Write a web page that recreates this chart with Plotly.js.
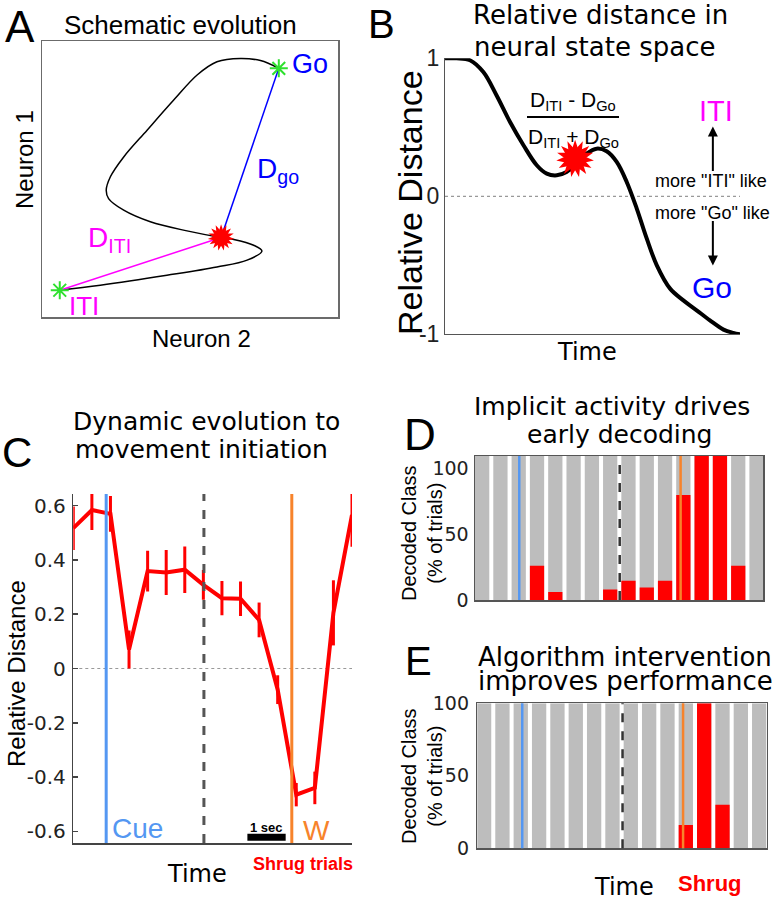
<!DOCTYPE html>
<html><head><meta charset="utf-8">
<script src="https://cdn.plot.ly/plotly-3.0.1.min.js"></script>
<style>html,body{margin:0;padding:0;background:#fff;}#chart{width:779px;height:900px;}</style>
</head><body><div id="chart"></div>
<script>
// ---------- Panel A: schematic trajectory (Neuron 2 vs Neuron 1) ----------
const schemX = [6.0, 19.7, 42.2, 59.1, 69.3, 74.3, 71.5, 64.8, 60.5, 49.0, 36.6, 27.6, 22.5, 21.7, 23.1, 27.6, 35.5, 44.5, 52.4, 59.1, 67.0, 73.8, 80.0];
const schemY = [9.7, 11.5, 15.1, 18.1, 20.6, 23.9, 26.0, 28.1, 28.8, 31.2, 34.5, 38.7, 42.9, 45.9, 50.8, 58.0, 67.7, 78.6, 87.7, 92.5, 93.7, 92.9, 90.1];
const anchorX = [6.0, 80.0];   // ITI, Go
const anchorY = [9.7, 90.1];
const currentX = [60.5];
const currentY = [28.8];

// ---------- Panel B: relative distance curve ----------
const timeB = [0, 3.95, 8.47, 13.0, 17.5, 22.0, 26.6, 31.1, 34.5, 37.9, 41.2, 44.6, 48.0, 51.4, 54.8, 58.2, 61.6, 65.0, 68.4, 71.8, 76.3, 80.8, 85.3, 89.8, 94.4, 97.7, 100];
const distB = [1.0, 1.0, 0.986, 0.90, 0.73, 0.54, 0.37, 0.225, 0.164, 0.152, 0.176, 0.237, 0.309, 0.345, 0.326, 0.249, 0.104, -0.089, -0.307, -0.5, -0.669, -0.754, -0.826, -0.899, -0.966, -0.99, -1.0];
const markerBX = [44.1];
const markerBY = [0.273];

// ---------- Panel C: relative distance over time ----------
const binsC = [0, 1, 2, 3, 4, 5, 6, 7, 8, 9, 10, 11, 12, 13, 14, 15];
const relDistC = [0.517, 0.584, 0.570, 0.07, 0.359, 0.354, 0.364, 0.308, 0.259, 0.257, 0.179, -0.078, -0.465, -0.44, 0.205, 0.566];
const semC = [0.08, 0.074, 0.066, 0.07, 0.075, 0.083, 0.086, 0.055, 0.063, 0.064, 0.064, 0.053, 0.043, 0.06, 0.12, 0.117];
const cueC = 1.77, splitC = 7.03, moveC = 11.76;
const scaleBarC = [9.37, 11.43];
const yTicksC = [-0.6, -0.4, -0.2, 0, 0.2, 0.4, 0.6];
const yTickTextC = ['-0.6', '-0.4', '-0.2', '0', '0.2', '0.4', '0.6'];

// ---------- Panels D & E: decoded class ----------
const binsDE = [0, 1, 2, 3, 4, 5, 6, 7, 8, 9, 10, 11, 12, 13, 14, 15];
const bgD = [109, 109, 109, 109, 109, 109, 109, 109, 109, 109, 109, 109, 109, 109, 109, 109];
const shrugD = [0, 0, 0, 26, 6, 0, 0, 8, 14.5, 9.5, 14.5, 79.5, 109, 109, 26, 0];
const cueD = 2.03, splitD = 7.52, moveD = 10.85;
const bgE = [100, 100, 100, 100, 100, 100, 100, 100, 100, 100, 100, 100, 100, 100, 100, 100];
const shrugE = [0, 0, 0, 0, 0, 0, 0, 0, 0, 0, 0, 16, 100, 30, 0, 0];
const cueE = 2.08, splitE = 7.55, moveE = 10.85;
const yTicksDE = [0, 50, 100];

// ---------- helpers ----------
const W = 779, H = 900;
const PX = x => x / W, PY = y => 1 - y / H;
const dX = (a, b) => [a / W, b / W];
const dY = (top, bot) => [1 - bot / H, 1 - top / H];
const ARIAL = 'Liberation Sans, Arial, sans-serif';
const DJV = 'DejaVu Sans, Verdana, sans-serif';
const BLUE = '#5497F2', ORANGE = '#F7832B', GRAY = '#BDBDBD', RED = '#FF0000';

const burst = (xs, ys, xa, ya, size) => [0, 24, 48].map(ang => ({
  x: xs, y: ys, xaxis: xa, yaxis: ya, mode: 'markers', cliponaxis: false,
  marker: {symbol: 'star', size: size, angle: ang, color: RED, line: {width: 0}}
}));

const traces = [
  // A
  {x: schemX, y: schemY, xaxis: 'x', yaxis: 'y', mode: 'lines', line: {color: '#000', width: 1.5, shape: 'spline', smoothing: 1}},
  {x: [anchorX[0], currentX[0]], y: [anchorY[0], currentY[0]], xaxis: 'x', yaxis: 'y', mode: 'lines', line: {color: '#FF00FF', width: 1.5}},
  {x: [currentX[0], anchorX[1]], y: [currentY[0], anchorY[1]], xaxis: 'x', yaxis: 'y', mode: 'lines', line: {color: '#0000FF', width: 1.5}},
  {x: anchorX, y: anchorY, xaxis: 'x', yaxis: 'y', mode: 'markers', cliponaxis: false,
   marker: {symbol: 'asterisk-open', size: 15, color: '#2EE02E', line: {color: '#2EE02E', width: 2}}},
  ...burst(currentX, currentY, 'x', 'y', 19),
  // B
  {x: timeB, y: distB, xaxis: 'x2', yaxis: 'y2', mode: 'lines', cliponaxis: false, line: {color: '#000', width: 4, shape: 'spline', smoothing: 1}},
  ...burst(markerBX, markerBY, 'x2', 'y2', 27),
  // C
  {x: binsC, y: relDistC, xaxis: 'x3', yaxis: 'y3', mode: 'lines', cliponaxis: false,
   line: {color: RED, width: 4},
   error_y: {type: 'data', array: semC, visible: true, color: RED, thickness: 3, width: 0}},
  // D
  {x: binsDE, y: bgD, xaxis: 'x4', yaxis: 'y4', type: 'bar', width: 0.78, marker: {color: GRAY, line: {width: 0}}},
  {x: binsDE, y: shrugD, xaxis: 'x4', yaxis: 'y4', type: 'bar', width: 0.78, marker: {color: RED, line: {width: 0}}},
  // E
  {x: binsDE, y: bgE, xaxis: 'x5', yaxis: 'y5', type: 'bar', width: 0.78, marker: {color: GRAY, line: {width: 0}}},
  {x: binsDE, y: shrugE, xaxis: 'x5', yaxis: 'y5', type: 'bar', width: 0.78, marker: {color: RED, line: {width: 0}}}
];

const hidden = {showticklabels: false, ticks: '', showgrid: false, zeroline: false};
const boxAx = (extra) => Object.assign({}, hidden, {showline: true, mirror: true, linecolor: '#6b6b6b', linewidth: 1.5, fixedrange: true}, extra);

const layout = {
  width: W, height: H, margin: {l: 0, r: 0, t: 0, b: 0},
  paper_bgcolor: '#fff', plot_bgcolor: '#fff', showlegend: false, barmode: 'overlay',
  xaxis: boxAx({domain: dX(42, 338), range: [0, 100], anchor: 'y'}),
  yaxis: boxAx({domain: dY(41, 317), range: [0, 100], anchor: 'x'}),
  xaxis2: Object.assign({}, hidden, {domain: dX(445, 740), range: [0, 100], anchor: 'y2', showline: true, linecolor: '#555', linewidth: 1}),
  yaxis2: {domain: dY(58.3, 334.3), range: [-1, 1], anchor: 'x2', showline: true, linecolor: '#555', linewidth: 1,
    showgrid: false, zeroline: false, ticks: '', tickvals: [-1, 0, 1], ticktext: ['-1', '0', '1'],
    tickfont: {family: ARIAL, size: 23, color: '#222'}, ticklabelstandoff: 0},
  xaxis3: Object.assign({}, hidden, {domain: dX(73.3, 352), range: [0, 15], anchor: 'y3', showline: true, linecolor: '#444', linewidth: 1.5}),
  yaxis3: {domain: dY(494, 843), range: [-0.643, 0.643], anchor: 'x3', showline: true, linecolor: '#444', linewidth: 1.5,
    showgrid: false, zeroline: false, ticks: 'inside', ticklen: 5, tickwidth: 1.5, tickcolor: '#444',
    tickvals: yTicksC, ticktext: yTickTextC, tickfont: {family: DJV, size: 20, color: '#222'}, ticklabelstandoff: 2},
  xaxis4: boxAx({domain: dX(475, 763.3), range: [-0.39, 15.37], anchor: 'y4', linecolor: '#555'}),
  yaxis4: {domain: dY(456, 600), range: [0, 109], anchor: 'x4', showline: true, mirror: true, linecolor: '#555', linewidth: 1.5,
    showgrid: false, zeroline: false, ticks: '', tickvals: yTicksDE, tickfont: {family: DJV, size: 19, color: '#222'}, ticklabelstandoff: 1},
  xaxis5: boxAx({domain: dX(477.3, 766.7), range: [-0.37, 15.41], anchor: 'y5', linecolor: '#555'}),
  yaxis5: {domain: dY(703.3, 848.3), range: [0, 100], anchor: 'x5', showline: true, mirror: true, linecolor: '#555', linewidth: 1.5,
    showgrid: false, zeroline: false, ticks: '', tickvals: yTicksDE, tickfont: {family: DJV, size: 19, color: '#222'}, ticklabelstandoff: 3},
  shapes: [],
  annotations: []
};

const vline = (xr, yr, x, color, width, dash) => ({type: 'line', xref: xr, yref: yr + ' domain', x0: x, x1: x, y0: 0, y1: 1,
  line: {color: color, width: width, dash: dash || 'solid'}, layer: 'above'});
layout.shapes.push(
  {type: 'line', xref: 'x2', yref: 'y2', x0: 0, x1: 100, y0: 0, y1: 0, line: {color: '#999', width: 1.2, dash: 'dot'}, layer: 'below'},
  {type: 'line', xref: 'x3', yref: 'y3', x0: 0, x1: 15.7, y0: 0, y1: 0, line: {color: '#999', width: 1.2, dash: 'dot'}, layer: 'below'},
  vline('x3', 'y3', cueC, BLUE, 3),
  vline('x3', 'y3', splitC, '#555', 3, 'dash'),
  vline('x3', 'y3', moveC, ORANGE, 3),
  {type: 'line', xref: 'x3', yref: 'y3', x0: scaleBarC[0], x1: scaleBarC[1], y0: -0.622, y1: -0.622, line: {color: '#000', width: 7}},
  vline('x4', 'y4', cueD, BLUE, 2.5),
  vline('x4', 'y4', splitD, '#333', 2.5, 'dash'),
  vline('x4', 'y4', moveD, ORANGE, 2.5),
  vline('x5', 'y5', cueE, BLUE, 2.5),
  vline('x5', 'y5', splitE, '#333', 2.5, 'dash'),
  vline('x5', 'y5', moveE, ORANGE, 2.5),
  {type: 'line', xref: 'paper', yref: 'paper', x0: PX(527), x1: PX(619), y0: PY(117), y1: PY(117), line: {color: '#000', width: 2}}
);

const A = (text, x, y, font, extra) => Object.assign({text: text, x: PX(x), y: PY(y), xref: 'paper', yref: 'paper',
  showarrow: false, xanchor: 'center', yanchor: 'middle', font: font}, extra || {});
const f = (family, size, color, extra) => Object.assign({family: family, size: size, color: color || '#000'}, extra || {});

layout.annotations.push(
  // A
  A('A', 20, 0, f(ARIAL, 44), {yanchor: 'top'}),
  A('Schematic evolution', 180, 25, f(ARIAL, 26)),
  A('Neuron 1', 24, 160, f(ARIAL, 24), {textangle: -90}),
  A('Neuron 2', 201, 338, f(ARIAL, 24)),
  A('Go', 310, 64, f(ARIAL, 27, '#0000FF')),
  A('D<sub>go</sub>', 255, 171, f(ARIAL, 28, '#0000FF'), {xanchor: 'left'}),
  A('D<sub>ITI</sub>', 86, 239, f(ARIAL, 28, '#FF00FF'), {xanchor: 'left'}),
  A('ITI', 84, 306, f(ARIAL, 26, '#FF00FF')),
  // B
  A('B', 381, 24, f(ARIAL, 40)),
  A('Relative distance in', 600, 15, f(DJV, 26)),
  A('neural state space', 594, 47, f(DJV, 26)),
  A('Relative Distance', 410, 203, f(ARIAL, 34), {textangle: -90}),
  A('Time', 587, 352, f(DJV, 24)),
  A('D<sub>ITI</sub> - D<sub>Go</sub>', 573, 101, f(ARIAL, 21)),
  A('D<sub>ITI</sub> + D<sub>Go</sub>', 573, 138, f(ARIAL, 21)),
  A('ITI', 716, 111, f(ARIAL, 29, '#FF00FF')),
  A('Go', 712, 287, f(ARIAL, 30, '#0000FF')),
  A('more "ITI" like', 711, 181, f(ARIAL, 18)),
  A('more "Go" like', 712, 213, f(ARIAL, 18)),
  {text: '', xref: 'x2', yref: 'y2', x: 90.8, y: 0.505, ax: 0, ay: 46, showarrow: true, arrowhead: 2, arrowsize: 1, arrowwidth: 2, arrowcolor: '#000'},
  {text: '', xref: 'x2', yref: 'y2', x: 90.8, y: -0.502, ax: 0, ay: -46, showarrow: true, arrowhead: 2, arrowsize: 1, arrowwidth: 2, arrowcolor: '#000'},
  // C
  A('C', 17, 452, f(ARIAL, 42)),
  A('Dynamic evolution to', 206, 421, f(DJV, 25)),
  A('movement initiation', 202, 449, f(DJV, 25)),
  A('Relative Distance', 16, 674, f(ARIAL, 24), {textangle: -90}),
  A('Time', 197, 874, f(DJV, 24)),
  A('<b>Shrug trials</b>', 303, 864, f(ARIAL, 18, RED)),
  A('Cue', 110, 828, f(ARIAL, 28, BLUE), {xanchor: 'left'}),
  A('W', 301, 830, f(ARIAL, 28, ORANGE), {xanchor: 'left'}),
  A('<b>1 sec</b>', 266, 827, f(ARIAL, 13)),
  // D
  A('D', 420, 434, f(ARIAL, 44)),
  A('Implicit activity drives', 612, 406, f(DJV, 25)),
  A('early decoding', 620, 434, f(DJV, 25)),
  A('Decoded Class<br>(% of trials)', 422, 533, f(ARIAL, 20), {textangle: -90}),
  // E
  A('E', 418, 661, f(ARIAL, 40)),
  A('Algorithm intervention', 625, 657, f(DJV, 26)),
  A('improves performance', 625, 681, f(DJV, 26)),
  A('Decoded Class<br>(% of trials)', 422, 776, f(ARIAL, 20), {textangle: -90}),
  A('Time', 624, 887, f(DJV, 24)),
  A('<b>Shrug</b>', 710, 883, f(ARIAL, 22, RED))
);

Plotly.newPlot('chart', traces, layout, {staticPlot: true, displayModeBar: false});
</script>
</body></html>
